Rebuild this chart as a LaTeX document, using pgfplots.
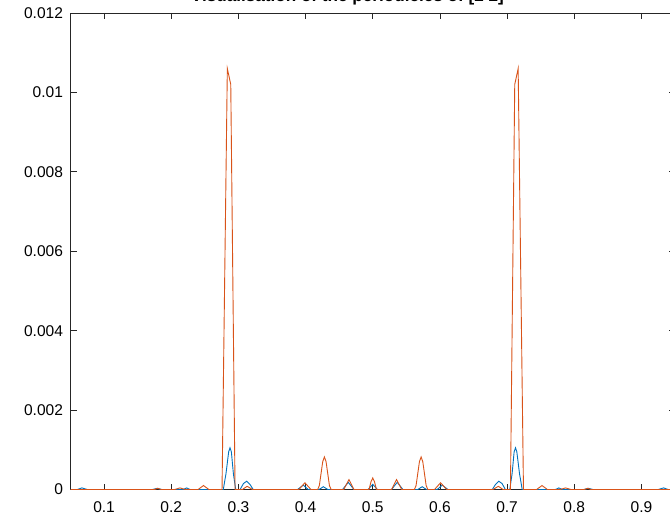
\documentclass[border=0pt]{standalone}
\usepackage{fontspec}
\setmainfont{Liberation Sans}
\usepackage{pgfplots}
\pgfplotsset{compat=1.18}
\definecolor{mblue}{RGB}{0,114,189}
\definecolor{morange}{RGB}{217,83,25}
\definecolor{maxis}{RGB}{38,38,38}
\begin{document}
\begin{tikzpicture}
\begin{axis}[
  at={(0,0)}, anchor=south west,
  scale only axis, width=604.5bp, height=476.5bp,
  xmin=0.05, xmax=0.95, ymin=0, ymax=0.012,
  xtick={0.1,0.2,...,0.9}, ytick={0,0.002,0.004,0.006,0.008,0.01,0.012},
  scaled y ticks=false, scaled x ticks=false,
  yticklabel style={/pgf/number format/fixed,/pgf/number format/precision=3, xshift=-4bp},
  xticklabel style={/pgf/number format/fixed,/pgf/number format/precision=1, yshift=-9bp},
  /pgf/number format/assume math mode=true,
  tick label style={font=\fontsize{15.6}{18}\selectfont, text=black},
  tick align=inside, major tick length=6bp,
  axis line style={maxis, line width=0.8bp},
  every tick/.style={maxis, line width=0.8bp},
  clip=false,
  title={\textbf{Visualisation of the periodicies of [2 2]}},
  title style={font=\fontsize{17.2}{20}\selectfont, anchor=base, at={(0.458,1)}, yshift=6bp},
]
\addplot[mblue, line width=0.9bp] coordinates {
(0.05,0) (0.06,0) (0.067,0.00004) (0.075,0) (0.172,0) (0.179,0.00003) (0.186,0)
(0.218,0) (0.223,0.00004) (0.228,0) (0.272,0)
(0.2775,0) (0.2815,0.0004) (0.2855,0.00095) (0.2875,0.00105) (0.2895,0.00095) (0.2925,0.0004) (0.296,0)
(0.3025,0) (0.3075,0.00015) (0.3124,0.00021) (0.3175,0.00012) (0.322,0)
(0.388,0) (0.3966,0.00011) (0.404,0)
(0.42,0) (0.4264,0.00007) (0.433,0)
(0.455,0) (0.4636,0.00018) (0.472,0)
(0.493,0) (0.5,0.00013) (0.507,0)
(0.528,0) (0.5364,0.00018) (0.545,0)
(0.567,0) (0.5736,0.00007) (0.58,0)
(0.596,0) (0.6034,0.00011) (0.612,0)
(0.678,0) (0.6825,0.00012) (0.6876,0.00021) (0.6925,0.00015) (0.6975,0)
(0.704,0) (0.7075,0.0004) (0.7105,0.00095) (0.7125,0.00105) (0.7145,0.00095) (0.7185,0.0004) (0.7225,0)
(0.728,0) (0.772,0) (0.777,0.00004) (0.782,0) (0.814,0) (0.821,0.00003) (0.828,0)
(0.925,0) (0.933,0.00004) (0.94,0) (0.95,0)
};
\addplot[morange, line width=0.9bp] coordinates {
(0.05,0) (0.175,0) (0.18,0.00003) (0.185,0) (0.205,0) (0.213,0.00004) (0.221,0)
(0.24,0) (0.248,0.0001) (0.256,0)
(0.2756,0) (0.2835,0.0106) (0.2886,0.0102) (0.295,0)
(0.306,0) (0.313,0.00008) (0.321,0)
(0.39,0) (0.399,0.00017) (0.408,0)
(0.418,0) (0.4205,0.0001) (0.423,0.0004) (0.4255,0.0007) (0.428,0.00082) (0.4305,0.0007) (0.433,0.0004) (0.4355,0.0001) (0.438,0)
(0.457,0) (0.4605,0.00012) (0.4646,0.00025) (0.4685,0.00012) (0.472,0)
(0.4945,0) (0.4975,0.0002) (0.5,0.00029) (0.5025,0.0002) (0.5055,0)
(0.528,0) (0.5315,0.00012) (0.5354,0.00025) (0.5395,0.00012) (0.543,0)
(0.562,0) (0.5645,0.0001) (0.567,0.0004) (0.5695,0.0007) (0.572,0.00082) (0.5745,0.0007) (0.577,0.0004) (0.5795,0.0001) (0.582,0)
(0.592,0) (0.601,0.00017) (0.61,0)
(0.679,0) (0.687,0.00008) (0.694,0)
(0.705,0) (0.7114,0.0102) (0.7165,0.0106) (0.7244,0)
(0.744,0) (0.752,0.0001) (0.76,0)
(0.779,0) (0.787,0.00004) (0.795,0) (0.815,0) (0.82,0.00003) (0.825,0) (0.95,0)
};
\end{axis}
\pgfresetboundingbox
\path[use as bounding box] (-70.5bp,-36.5bp) rectangle (599.5bp,489.5bp);
\end{tikzpicture}
\end{document}
